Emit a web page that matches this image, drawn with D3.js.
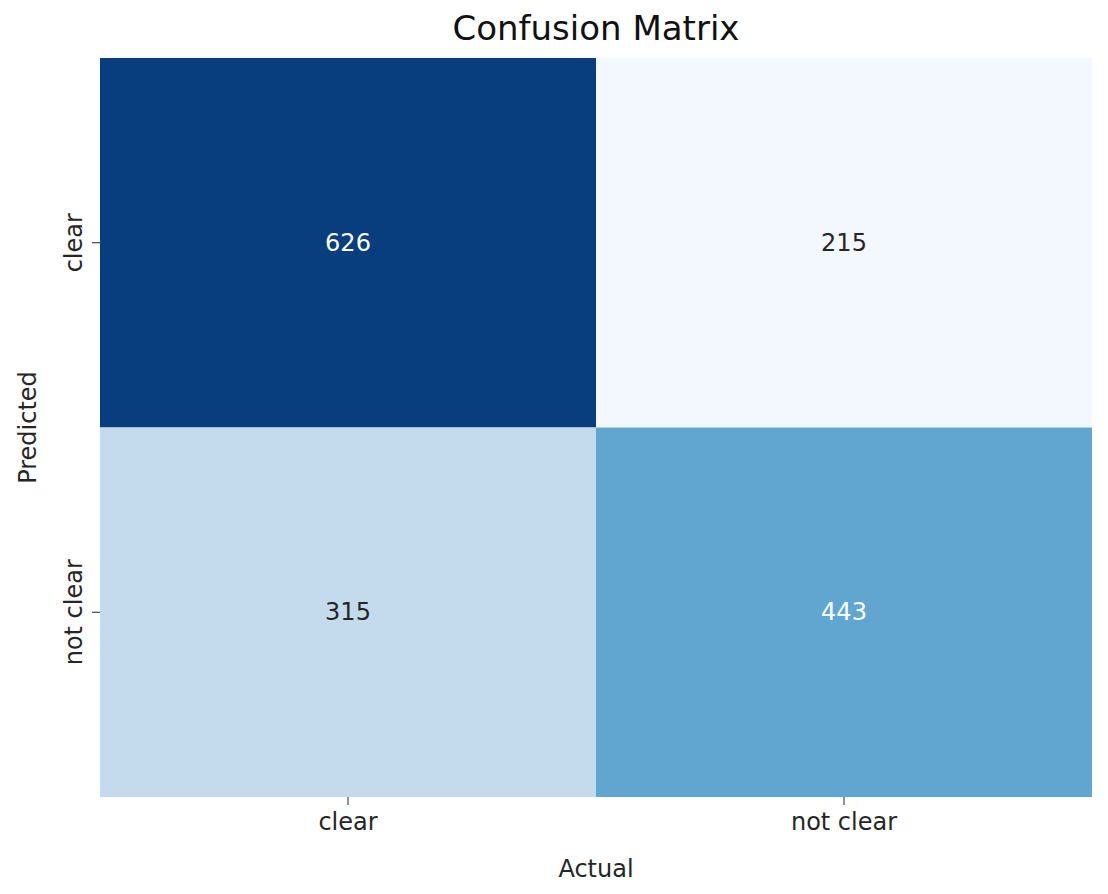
<!DOCTYPE html>
<html><head><meta charset="utf-8">
<script src="https://cdn.jsdelivr.net/npm/d3@7"></script>
<style>body{margin:0;background:#fff}text{font-family:"DejaVu Sans",sans-serif}</style>
</head><body><svg id="c" width="1108" height="894"></svg>
<script>
const actualLabels = ["clear", "not clear"];
const predictedLabels = ["clear", "not clear"];
const matrix = [[626, 215], [315, 443]]; // rows: predicted, cols: actual
const cells = [];
matrix.forEach((row, i) => row.forEach((v, j) => cells.push({p: predictedLabels[i], a: actualLabels[j], v})));
const svg = d3.select("#c");
const L = 100, R = 1092, T = 58, B = 797;
const x = d3.scaleBand().domain(actualLabels).range([L, R]);
const y = d3.scaleBand().domain(predictedLabels).range([T, B]);
const vals = cells.map(d => d.v);
const color = d3.scaleSequential(t => d3.interpolateBlues(0.02 + t * 0.93)).domain([d3.min(vals), d3.max(vals)]);
svg.selectAll("rect").data(cells).join("rect")
  .attr("x", d => x(d.a)).attr("y", d => y(d.p))
  .attr("width", x.bandwidth()).attr("height", y.bandwidth())
  .attr("fill", d => color(d.v));
svg.selectAll("text.v").data(cells).join("text").attr("class", "v")
  .attr("x", d => x(d.a) + x.bandwidth() / 2).attr("y", d => y(d.p) + y.bandwidth() / 2)
  .attr("text-anchor", "middle").attr("dominant-baseline", "central")
  .attr("font-size", 24).attr("fill", d => (d.v - 215) / (626 - 215) > 0.5 ? "#fff" : "#262626")
  .text(d => d.v);
const xa = svg.append("g").attr("transform", `translate(0,${B})`).call(d3.axisBottom(x).tickSize(8).tickPadding(8));
const ya = svg.append("g").attr("transform", `translate(${L},0)`).call(d3.axisLeft(y).tickSize(8).tickPadding(8));
[xa, ya].forEach(a => { a.select(".domain").remove(); a.selectAll("text").attr("font-size", 24).attr("fill", "#262626").style("font-family", "DejaVu Sans"); a.selectAll("line").attr("stroke", "#262626"); });
ya.selectAll(".tick text").attr("transform", "rotate(-90)").attr("text-anchor", "middle").attr("x", 0).attr("y", -18).attr("dy", "0");
svg.append("text").attr("x", (L + R) / 2).attr("y", 877).attr("text-anchor", "middle").attr("font-size", 24).attr("fill", "#262626").text("Actual");
svg.append("text").attr("transform", `translate(36,${(T + B) / 2}) rotate(-90)`).attr("text-anchor", "middle").attr("font-size", 24).attr("fill", "#262626").text("Predicted");
svg.append("text").attr("x", (L + R) / 2).attr("y", 40).attr("text-anchor", "middle").attr("font-size", 34).attr("fill", "#111").text("Confusion Matrix");
</script></body></html>
